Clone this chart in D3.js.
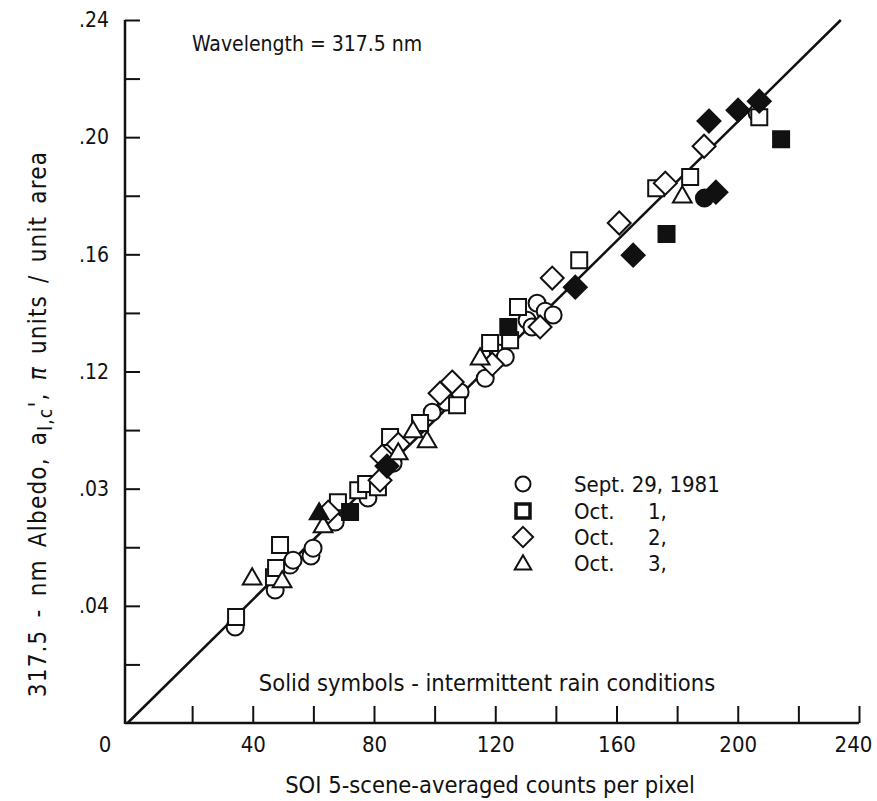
<!DOCTYPE html>
<html>
<head>
<meta charset="utf-8">
<script src="https://cdn.jsdelivr.net/npm/d3@7/dist/d3.min.js"></script>
<style>
  html, body { margin: 0; padding: 0; background: #fff; }
  svg { display: block; }
  text { font-family: "Liberation Sans Narrow", "DejaVu Sans Condensed", "Roboto Condensed", sans-serif; fill: #111; }
</style>
</head>
<body>
<svg id="chart" width="877" height="801"></svg>
<script>
// ---------------- data ----------------
const seriesNames = ["Sept. 29, 1981", "Oct.    1,", "Oct.    2,", "Oct.    3,"];
const seriesShapes = ["circle", "square", "diamond", "triangle"];

// [counts, albedo, solid(1 = intermittent rain)]
const sept29 = [
  [34.2, 0.0328, 0], [47.4, 0.0454, 0], [52.3, 0.0539, 0], [53.3, 0.0556, 0],
  [59.2, 0.0570, 0], [59.9, 0.0597, 0], [67.2, 0.0686, 0], [78.0, 0.0768, 0],
  [86.3, 0.0887, 0], [99.2, 0.1061, 0], [103.8, 0.1096, 0], [108.4, 0.1130, 0],
  [116.7, 0.1177, 0], [121.0, 0.1263, 0], [123.3, 0.1249, 0], [130.5, 0.1375, 0],
  [132.1, 0.1352, 0], [133.8, 0.1433, 0], [136.5, 0.1406, 0], [139.1, 0.1393, 0],
  [206.4, 0.2082, 0], [189.0, 0.1792, 1]
];
const oct1 = [
  [34.5, 0.0362, 0], [47.0, 0.0498, 0], [47.7, 0.0529, 0], [49.0, 0.0608, 0],
  [68.1, 0.0754, 0], [74.8, 0.0795, 0], [77.4, 0.0816, 0], [81.3, 0.0805, 0],
  [85.3, 0.0976, 0], [95.2, 0.1024, 0], [107.4, 0.1085, 0], [118.3, 0.1297, 0],
  [124.9, 0.1307, 0], [127.5, 0.1420, 0], [147.7, 0.1580, 0], [173.1, 0.1826, 0],
  [184.3, 0.1864, 0], [207.1, 0.2068, 0],
  [72.1, 0.0720, 1], [124.3, 0.1352, 1], [176.5, 0.1669, 1], [214.3, 0.1993, 1]
];
const oct2 = [
  [64.9, 0.0720, 0], [82.0, 0.0829, 0], [82.7, 0.0911, 0], [88.0, 0.0952, 0],
  [101.8, 0.1126, 0], [105.8, 0.1164, 0], [119.0, 0.1225, 0], [134.8, 0.1352, 0],
  [138.8, 0.1519, 0], [160.9, 0.1707, 0], [176.1, 0.1843, 0], [188.9, 0.1969, 0],
  [84.3, 0.0877, 1], [146.4, 0.1488, 1], [165.5, 0.1597, 1], [192.8, 0.1812, 1],
  [190.5, 0.2055, 1], [200.1, 0.2092, 1], [207.1, 0.2123, 1]
];
const oct3 = [
  [39.8, 0.0498, 0], [49.7, 0.0488, 0], [63.2, 0.0676, 0], [88.0, 0.0925, 0],
  [92.9, 0.1000, 0], [97.5, 0.0966, 0], [115.0, 0.1249, 0], [181.7, 0.1802, 0],
  [61.9, 0.0720, 1]
];
const seriesData = [sept29, oct1, oct2, oct3];

// fitted line endpoints [counts, albedo]
const fitLine = [[-1.3, 0.0], [234.0, 0.24]];

const xTickValues = [20, 40, 60, 80, 100, 120, 140, 160, 180, 200, 220, 240];
const xLabelValues = [0, 40, 80, 120, 160, 200, 240];
const xLabels = ["0", "40", "80", "120", "160", "200", "240"];
const yTickValues = [0.02, 0.04, 0.06, 0.08, 0.10, 0.12, 0.14, 0.16, 0.18, 0.20, 0.22, 0.24];
const yLabelValues = [0.04, 0.08, 0.12, 0.16, 0.20, 0.24];
const yLabels = [".04", ".03", ".12", ".16", ".20", ".24"];

// ---------------- layout ----------------
const svg = d3.select("#chart");
const x = d3.scaleLinear().domain([0, 240]).range([131.5, 859]);
const y = d3.scaleLinear().domain([0, 0.24]).range([723, 20]);
const axisX0 = 125; // y-axis line position
const ink = "#111";

// axis lines
svg.append("line").attr("x1", axisX0).attr("x2", axisX0).attr("y1", y(0.24)).attr("y2", y(0) + 1)
  .attr("stroke", ink).attr("stroke-width", 2.5);
svg.append("line").attr("x1", axisX0).attr("x2", x(240)).attr("y1", y(0)).attr("y2", y(0))
  .attr("stroke", ink).attr("stroke-width", 2.5);

// y ticks (inward)
const yTicks = svg.append("g").attr("transform", `translate(${axisX0},0)`)
  .call(d3.axisRight(y).tickValues(yTickValues).tickSize(15).tickFormat(""));
yTicks.select(".domain").remove();
yTicks.selectAll("line").attr("stroke", ink).attr("stroke-width", 2);

const yLab = svg.append("g").attr("transform", `translate(${axisX0},0)`)
  .call(d3.axisLeft(y).tickValues(yLabelValues).tickSize(0).tickPadding(16)
    .tickFormat((d, i) => yLabels[i]));
yLab.select(".domain").remove();
yLab.selectAll("text").attr("font-size", 21).style("font-family", null);

// x ticks (inward, upward)
const xTicks = svg.append("g").attr("transform", `translate(0,${y(0)})`)
  .call(d3.axisTop(x).tickValues(xTickValues).tickSize(17).tickFormat(""));
xTicks.select(".domain").remove();
xTicks.selectAll("line").attr("stroke", ink).attr("stroke-width", 2);

const xLab = svg.append("g").attr("transform", `translate(0,${y(0)})`)
  .call(d3.axisBottom(x).tickValues(xLabelValues).tickSize(0).tickPadding(13)
    .tickFormat((d, i) => xLabels[i]));
xLab.select(".domain").remove();
xLab.selectAll("text").attr("font-size", 22).style("font-family", null)
  .attr("dx", d => d === 0 ? -27 : (d === 240 ? -6 : 0));

// fitted line
svg.append("line")
  .attr("x1", x(fitLine[0][0])).attr("y1", y(fitLine[0][1]))
  .attr("x2", x(fitLine[1][0])).attr("y2", y(fitLine[1][1]))
  .attr("stroke", ink).attr("stroke-width", 2.5);

// marker path generator
function shapePath(shape, s) {
  if (shape === "circle") return d3.symbol(d3.symbolCircle, Math.PI * s * s)();
  if (shape === "square") return `M${-s},${-s}H${s}V${s}H${-s}Z`;
  if (shape === "diamond") { const d = s * 1.35; return `M0,${-d}L${d},0L0,${d}L${-d},0Z`; }
  if (shape === "triangle") { const h = s * 1.9, w = s * 1.1; return `M0,${-h * 0.55}L${w},${h * 0.45}L${-w},${h * 0.45}Z`; }
}
const sizes = { circle: 8.5, square: 8, diamond: 8.5, triangle: 8.5 };

seriesData.forEach((data, i) => {
  const shape = seriesShapes[i];
  const g = svg.append("g");
  g.selectAll("path").data(data).join("path")
    .attr("transform", d => `translate(${x(d[0])},${y(d[1])})`)
    .attr("d", shapePath(shape, sizes[shape]))
    .attr("fill", d => d[2] ? ink : "#fff")
    .attr("stroke", ink).attr("stroke-width", 2);
});

// legend
const legendRows = [484, 511, 537, 563];
seriesNames.forEach((name, i) => {
  const shape = seriesShapes[i];
  svg.append("path")
    .attr("transform", `translate(523,${legendRows[i]})`)
    .attr("d", shapePath(shape, shape === "square" ? 7 : 7.5))
    .attr("fill", "#fff").attr("stroke", ink)
    .attr("stroke-width", shape === "square" ? 3.5 : 2);
});
const legText = [["Sept. 29, 1981", ""], ["Oct.", "1,"], ["Oct.", "2,"], ["Oct.", "3,"]];
legText.forEach((t, i) => {
  svg.append("text").attr("x", 574).attr("y", legendRows[i] + 8).attr("font-size", 22).text(t[0]);
  if (t[1]) svg.append("text").attr("x", 648).attr("y", legendRows[i] + 8).attr("font-size", 22).text(t[1]);
});

// annotations
svg.append("text").attr("x", 192).attr("y", 51).attr("font-size", 21).text("Wavelength = 317.5 nm");
svg.append("text").attr("x", 487).attr("y", 691).attr("font-size", 23.5).attr("text-anchor", "middle")
  .text("Solid symbols - intermittent rain conditions");

// axis titles
svg.append("text").attr("x", 490).attr("y", 793).attr("font-size", 23.5).attr("text-anchor", "middle")
  .text("SOI 5-scene-averaged counts per pixel");

const yt = svg.append("text").attr("transform", "translate(46,424) rotate(-90)")
  .attr("font-size", 24).attr("text-anchor", "middle")
  .attr("letter-spacing", 1.2).attr("word-spacing", 4);
yt.append("tspan").text("317.5 - nm Albedo, a");
yt.append("tspan").attr("baseline-shift", "-30%").attr("font-size", 19).text("l,c");
yt.append("tspan").text("', ");
yt.append("tspan").style("font-style", "italic").text("π");
yt.append("tspan").text(" units / unit area");
</script>
</body>
</html>
